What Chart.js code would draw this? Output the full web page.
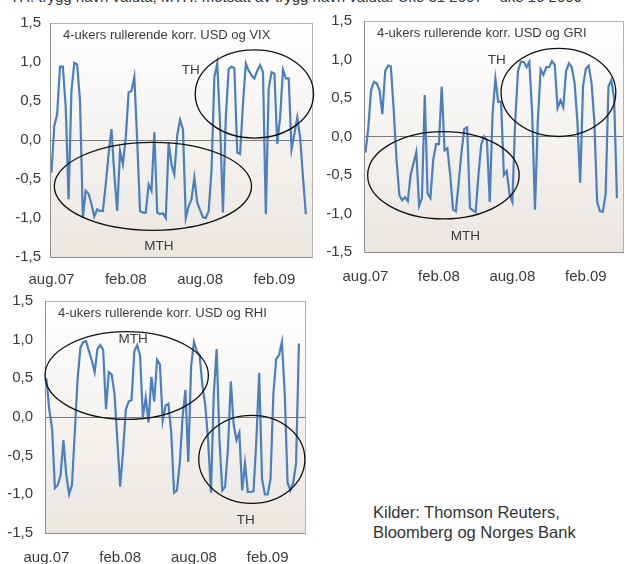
<!DOCTYPE html>
<html>
<head>
<meta charset="utf-8">
<script src="https://cdn.jsdelivr.net/npm/chart.js@4.4.1/dist/chart.umd.min.js"></script>
<style>
  body { margin: 0; width: 625px; height: 564px; overflow: hidden; background: #fff; position: relative;
         font-family: "Liberation Sans", Arial, sans-serif; color: #333; }
  canvas { position: absolute; }
  #topnote { position: absolute; left: 10px; top: -11px; font-size: 15px; line-height: 15px; white-space: nowrap; }
  #kilder { position: absolute; left: 373px; top: 502px; font-size: 16.5px; line-height: 20px; }
</style>
</head>
<body>
<div id="topnote">TH: trygg havn valuta, MTH: motsatt av trygg havn valuta. Uke 31 2007 – uke 16 2009</div>
<canvas id="c1" width="320" height="285" style="left:0;top:5px"></canvas>
<canvas id="c2" width="305" height="290" style="left:320px;top:0"></canvas>
<canvas id="c3" width="320" height="290" style="left:0;top:280px"></canvas>
<div id="kilder">Kilder: Thomson Reuters,<br>Bloomberg og Norges Bank</div>

<script>
// ukentlige verdier, uke 31 2007 - uke 16 2009
const vixValues = [
  -0.42, 0.18, 0.33, 0.94, 0.94, 0.42, -0.76, 0.63, 0.99, 0.97,
  0.5, -1.0, -0.65, -0.69, -0.82, -0.98, -0.89, -0.91, -0.91, -0.57,
  -0.18, 0.14, -0.44, -0.91, -0.14, -0.31, 0.03, 0.61, 0.63, 0.81,
  -0.01, -0.91, -0.93, -0.93, -0.57, -0.65, 0.1, -0.93, -0.95, -0.94,
  -1.0, -0.03, -0.31, -0.44, 0.06, 0.26, 0.14, -1.0, -0.85, -0.76,
  -0.48, -0.8, -0.9, -0.99, -1.0, -0.91, -0.39, 0.81, 0.98, 0.2,
  -0.93, 0.29, 0.91, 0.94, 0.92, -0.16, -0.18, 0.46, 0.98, 0.89,
  0.83, 0.79, 0.89, 0.96, 0.87, -0.95, 0.66, 0.87, 0.85, -0.05,
  0.29, 0.9, 0.79, 0.79, -0.12, 0.08, 0.29, 0.03, -0.48, -0.95
];
const griValues = [
  -0.21, 0.1, 0.6, 0.71, 0.69, 0.6, 0.29, 0.85, 0.92, 0.91,
  0.35, -0.3, -0.76, -0.83, -0.79, -0.84, -0.5, -0.35, -0.2, -0.9,
  -0.8, 0.54, -0.74, -0.8, -0.3, -0.1, -0.1, 0.65, -0.18, -0.15,
  -0.5, -0.95, -0.97, -0.6, -0.2, 0.1, 0.12, -0.93, -0.96, -0.98,
  -0.5, -0.1, 0.0, -0.05, -0.85, 0.3, 0.75, 0.45, 0.45, -0.5,
  -0.45, -0.75, -0.85, 0.2, 0.85, 0.97, 0.97, 0.9, 0.97, 0.3,
  -0.95, 0.2, 0.87, 0.8, 0.9, 0.9, 0.98, 0.93, 0.37, 0.47,
  0.38, 0.85, 0.95, 0.9, 0.7, 0.2, -0.6, 0.65, 0.88, 0.92,
  0.7, 0.2, -0.85, -0.97, -0.98, -0.75, 0.65, 0.73, 0.5, -0.8
];
const rhiValues = [
  0.5, 0.1, -0.15, -0.92, -0.88, -0.75, -0.3, -0.75, -1.0, -0.88,
  -0.2, 0.5, 0.9, 0.97, 0.98, 0.85, 0.73, 0.58, 0.88, 0.93,
  0.87, 0.1, 0.58, 0.55, 0.3, -0.3, -0.9, -0.45, 0.1, 0.2,
  0.22, 0.85, 0.93, 0.8, 0.0, 0.25, -0.07, 0.52, 0.2, 0.74,
  0.68, -0.05, 0.15, 0.17, -0.2, -0.98, -0.95, -0.6, 0.0, 0.35,
  -0.58, 0.65, 0.97, 0.85, 0.8, 0.4, 0.15, -0.3, -0.98, 0.3,
  0.88, -0.3, -0.95, -0.9, -0.4, 0.46, -0.1, -0.3, -0.2, -0.95,
  -0.6, -0.97, -0.97, -0.96, -0.3, 0.57, -0.8, -1.0, -1.0, -0.8,
  0.3, 0.75, 0.8, 0.97, 0.3, -0.85, -0.95, -0.85, -0.6, 0.95
];

const tickIdx = [0, 26, 52, 78];
const tickLabels = ['aug.07', 'feb.08', 'aug.08', 'feb.09'];

const FONT = '"Liberation Sans", Arial, sans-serif';
const LINE_COLOR = '#4a7fc0';
const TXT = '#3a3a3a';

// bakgrunn, ramme, ellipser og tekst
const decorPlugin = {
  id: 'decor',
  beforeDraw(chart) {
    const { ctx, chartArea: a } = chart;
    const g = ctx.createLinearGradient(0, a.top, 0, a.bottom);
    g.addColorStop(0, '#ffffff');
    g.addColorStop(1, '#ebe6e0');
    ctx.save();
    ctx.fillStyle = g;
    ctx.fillRect(a.left, a.top, a.right - a.left, a.bottom - a.top);
    ctx.restore();
  },
  afterDraw(chart, args, opts) {
    const { ctx, chartArea: a, scales: { x, y } } = chart;
    ctx.save();
    ctx.strokeStyle = '#b4b4b4';
    ctx.lineWidth = 1;
    ctx.strokeRect(a.left + 0.5, a.top + 0.5, a.right - a.left - 1, a.bottom - a.top);
    ctx.strokeStyle = '#8e8e8e';
    ctx.beginPath();
    ctx.moveTo(a.left + 0.5, a.top);
    ctx.lineTo(a.left + 0.5, a.bottom + 0.5);
    ctx.lineTo(a.right, a.bottom + 0.5);
    ctx.stroke();

    // ellipser
    ctx.strokeStyle = '#111';
    ctx.lineWidth = 1.3;
    (opts.ellipses || []).forEach(e => {
      const cx = x.getPixelForValue(e.cx), cy = y.getPixelForValue(e.cy);
      const rx = Math.abs(x.getPixelForValue(e.cx + e.rx) - cx);
      const ry = Math.abs(y.getPixelForValue(e.cy + e.ry) - cy);
      ctx.beginPath();
      ctx.ellipse(cx, cy, rx, ry, 0, 0, Math.PI * 2);
      ctx.stroke();
    });

    ctx.fillStyle = TXT;
    ctx.textBaseline = 'middle';
    ctx.textAlign = 'center';
    ctx.font = '13.5px ' + FONT;
    (opts.notes || []).forEach(n => {
      ctx.fillText(n.text, x.getPixelForValue(n.x), y.getPixelForValue(n.y));
    });

    ctx.textAlign = 'left';
    ctx.font = '13px ' + FONT;
    ctx.fillText(opts.title, a.left + 13, a.top + 12.5);
    ctx.restore();
  }
};

function lagPanel(id, values, p) {
  new Chart(document.getElementById(id), {
    type: 'line',
    data: {
      datasets: [{
        data: values.map((v, i) => ({ x: i, y: v })),
        borderColor: LINE_COLOR,
        borderWidth: 2.2,
        pointRadius: 0,
        tension: 0,
        clip: false
      }]
    },
    options: {
      responsive: false,
      animation: false,
      layout: { padding: { top: 18, right: p.padRight, bottom: 0, left: 0 } },
      plugins: {
        legend: { display: false },
        tooltip: { enabled: false },
        decor: { title: p.title, ellipses: p.ellipses, notes: p.notes }
      },
      scales: {
        x: {
          type: 'linear',
          min: -0.5,
          max: 91.5,
          afterBuildTicks: s => { s.ticks = tickIdx.map(v => ({ value: v })); },
          afterFit: s => { s.height = p.xHeight; },
          grid: { display: false, drawTicks: false },
          border: { display: false },
          ticks: {
            autoSkip: false,
            maxRotation: 0,
            padding: p.xPad,
            color: TXT,
            font: { family: FONT, size: 15 },
            callback: v => tickLabels[tickIdx.indexOf(v)]
          }
        },
        y: {
          min: -1.5,
          max: 1.5,
          afterFit: s => { s.width = p.yWidth; },
          grid: {
            drawTicks: false,
            color: c => (c.tick && Math.abs(c.tick.value) < 1e-9) ? '#7a7a7a' : 'rgba(0,0,0,0)',
            lineWidth: 1
          },
          border: { display: false },
          ticks: {
            stepSize: 0.5,
            padding: p.yPad,
            color: TXT,
            font: { family: FONT, size: 15 },
            callback: v => v.toFixed(1).replace('.', ',')
          }
        }
      }
    },
    plugins: [decorPlugin]
  });
}

lagPanel('c1', vixValues, {
  title: '4-ukers rullerende korr. USD og VIX',
  yWidth: 50, yPad: 9, xPad: 14, xHeight: 33, padRight: 7,
  ellipses: [
    { cx: 71, cy: 0.59, rx: 20.7, ry: 0.565 },
    { cx: 35.5, cy: -0.594, rx: 34.5, ry: 0.564 }
  ],
  notes: [
    { text: 'TH', x: 48.7, y: 0.89 },
    { text: 'MTH', x: 37.6, y: -1.36 }
  ]
});

lagPanel('c2', griValues, {
  title: '4-ukers rullerende korr. USD og GRI',
  yWidth: 44, yPad: 12, xPad: 16, xHeight: 38, padRight: 1,
  ellipses: [
    { cx: 68.3, cy: 0.572, rx: 20.3, ry: 0.572 },
    { cx: 27.6, cy: -0.503, rx: 26.8, ry: 0.567 }
  ],
  notes: [
    { text: 'TH', x: 46.5, y: 0.99 },
    { text: 'MTH', x: 35.4, y: -1.30 }
  ]
});

lagPanel('c3', rhiValues, {
  title: '4-ukers rullerende korr. USD og RHI',
  yWidth: 45, yPad: 12, xPad: 15.5, xHeight: 37, padRight: 14,
  ellipses: [
    { cx: 28.3, cy: 0.536, rx: 28.8, ry: 0.567 },
    { cx: 72.4, cy: -0.547, rx: 18.7, ry: 0.569 }
  ],
  notes: [
    { text: 'MTH', x: 30.6, y: 1.0 },
    { text: 'TH', x: 70.3, y: -1.33 }
  ]
});
</script>
</body>
</html>
